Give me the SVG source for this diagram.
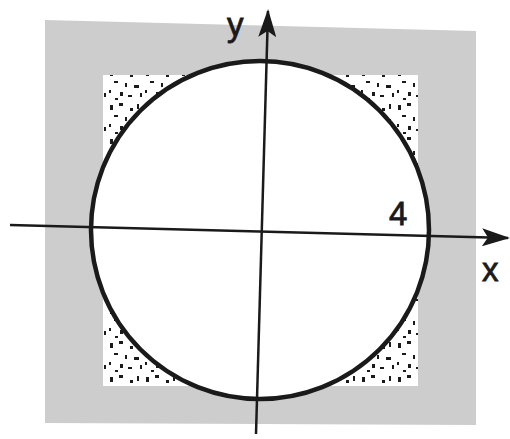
<svg xmlns="http://www.w3.org/2000/svg" width="510" height="439" viewBox="0 0 510 439">
  <style>
    .axis { stroke: #1a1a1a; stroke-width: 2.5; fill: none; }
    .lbl { font-family: "Liberation Sans", Arial, sans-serif; font-size: 33px; fill: #1a1a1a; stroke: #1a1a1a; stroke-width: 0.8; }
  </style>
  <defs>
    <marker id="arr" viewBox="0 0 28 18" refX="26" refY="9" markerWidth="28" markerHeight="18" markerUnits="userSpaceOnUse" orient="auto">
      <path d="M0,0 L28,9 L0,18 L6,9 Z" fill="#1a1a1a"/>
    </marker>
    <pattern id="speck" width="36" height="34" patternUnits="userSpaceOnUse">
      <rect width="36" height="34" fill="#ffffff"/>
      <g fill="#1a1a1a">
        <rect x="2" y="3" width="3" height="5"/>
        <rect x="11" y="1" width="4" height="3"/>
        <rect x="22" y="6" width="3" height="3"/>
        <rect x="29" y="2" width="2" height="5"/>
        <rect x="6" y="13" width="4" height="2"/>
        <rect x="17" y="15" width="2" height="4"/>
        <rect x="26" y="17" width="5" height="3"/>
        <rect x="1" y="22" width="2" height="3"/>
        <rect x="12" y="24" width="3" height="4"/>
        <rect x="20" y="27" width="4" height="2"/>
        <rect x="32" y="25" width="2" height="4"/>
        <rect x="7" y="30" width="3" height="2"/>
      </g>
    </pattern>
  </defs>
  <g id="background">
    <polygon points="45,20 476,31 476,425 45,423" fill="#cdcdcd"/>
    <rect x="103" y="75" width="315" height="311" fill="url(#speck)"/>
  </g>
  <g id="circle">
    <circle cx="260" cy="230" r="169" fill="#ffffff" stroke="#1a1a1a" stroke-width="4.5"/>
  </g>
  <g id="connectors">
    <line class="axis" x1="10" y1="225" x2="508" y2="238" marker-end="url(#arr)"/>
    <line class="axis" x1="256" y1="434" x2="268" y2="11" marker-end="url(#arr)"/>
  </g>
  <g id="labels">
    <text class="lbl" x="227" y="36">y</text>
    <text class="lbl" x="389" y="225">4</text>
    <text class="lbl" x="482" y="281">x</text>
  </g>
</svg>
